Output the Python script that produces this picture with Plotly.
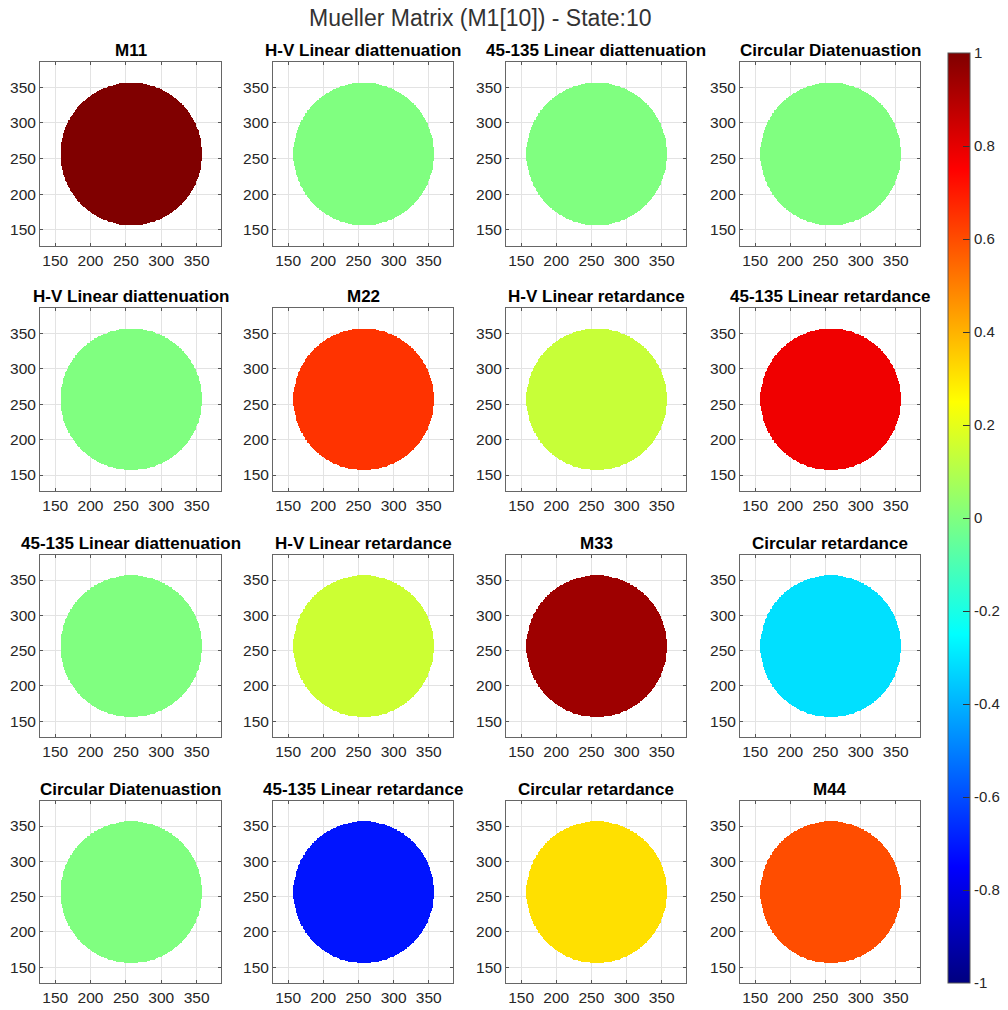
import numpy as np
import plotly.graph_objects as go

# Panel titles (row-major, 4x4 Mueller matrix layout)
titles = [
    "M11", "H-V Linear diattenuation", "45-135 Linear diattenuation", "Circular Diatenuastion",
    "H-V Linear diattenuation", "M22", "H-V Linear retardance", "45-135 Linear retardance",
    "45-135 Linear diattenuation", "H-V Linear retardance", "M33", "Circular retardance",
    "Circular Diatenuastion", "45-135 Linear retardance", "Circular retardance", "M44",
]

# Normalised element value inside the aperture for each panel
values = [
    1.00, 0.00, 0.00, 0.00,
    0.00, 0.65, 0.14, 0.78,
    0.00, 0.15, 0.94, -0.31,
    0.00, -0.71, 0.31, 0.60,
]

tick_vals = [150, 200, 250, 300, 350]
cbar_vals = [-1, -0.8, -0.6, -0.4, -0.2, 0, 0.2, 0.4, 0.6, 0.8, 1]
cbar_text = ["-1", "-0.8", "-0.6", "-0.4", "-0.2", "0", "0.2", "0.4", "0.6", "0.8", "1"]

# Aperture geometry in pixel coordinates
cx, cy, radius = 257.5, 256.5, 100.0

W, H = 1008, 1010
FONT = "Liberation Sans, Arial, Helvetica, sans-serif"

# MATLAB-style jet colormap
jet = [
    [0.0, "rgb(0,0,128)"],
    [0.125, "rgb(0,0,255)"],
    [0.375, "rgb(0,255,255)"],
    [0.625, "rgb(255,255,0)"],
    [0.875, "rgb(255,0,0)"],
    [1.0, "rgb(128,0,0)"],
]

# Axes boxes in pixels
col_px = [(40, 221), (273, 453), (506, 686), (740, 920)]
row_px = [(62, 246), (308, 491), (555, 737), (801, 983)]

xs = np.arange(157, 359)
ys = np.arange(156, 358)
X, Y = np.meshgrid(xs, ys)
inside = (X - cx) ** 2 + (Y - cy) ** 2 <= radius ** 2

fig = go.Figure()
layout = dict(
    width=W, height=H,
    margin=dict(l=0, r=0, t=0, b=0),
    paper_bgcolor="white", plot_bgcolor="white",
    showlegend=False,
    font=dict(family=FONT, color="#262626"),
    coloraxis=dict(
        cmin=-1, cmax=1, colorscale=jet,
        colorbar=dict(
            x=948 / W, xanchor="left", xpad=0, ypad=0,
            y=1 - 518 / H, yanchor="middle",
            thickness=22, thicknessmode="pixels",
            len=930, lenmode="pixels",
            outlinecolor="#555555", outlinewidth=1,
            tickmode="array", tickvals=cbar_vals, ticktext=cbar_text,
            ticks="inside", ticklen=7, tickcolor="#333333",
            tickfont=dict(family=FONT, size=15, color="#262626"),
        ),
    ),
)

annotations = []
for i, (name, val) in enumerate(zip(titles, values)):
    r, c = divmod(i, 4)
    k = i + 1
    xa = "x" if k == 1 else f"x{k}"
    ya = "y" if k == 1 else f"y{k}"
    z = np.where(inside, val, np.nan)
    zl = [[None if np.isnan(v) else float(v) for v in row] for row in z]
    fig.add_trace(go.Heatmap(
        x=xs, y=ys, z=zl, coloraxis="coloraxis",
        xaxis=xa, yaxis=ya, hoverongaps=False,
    ))
    x0, x1 = col_px[c]
    y0, y1 = row_px[r]
    axis_common = dict(
        tickmode="array", tickvals=tick_vals,
        ticks="inside", ticklen=3, tickcolor="#555555",
        showgrid=True, gridcolor="#e3e3e3", gridwidth=1,
        showline=True, mirror="ticks", linecolor="#666666", linewidth=1,
        zeroline=False, tickfont=dict(family=FONT, size=15.5, color="#262626"),
        fixedrange=True,
    )
    layout["xaxis" if k == 1 else f"xaxis{k}"] = dict(
        domain=[x0 / W, x1 / W], range=[128.5, 384.5], anchor=ya, **axis_common)
    layout["yaxis" if k == 1 else f"yaxis{k}"] = dict(
        domain=[1 - y1 / H, 1 - y0 / H], range=[127.5, 385.5], anchor=xa, **axis_common)
    annotations.append(dict(
        text=f"<b>{name}</b>", xref="paper", yref="paper",
        x=(x0 + x1) / 2 / W, y=1 - y0 / H,
        xanchor="center", yanchor="bottom", showarrow=False,
        font=dict(family=FONT, size=17, color="black"),
    ))

annotations.append(dict(
    text="Mueller Matrix (M1[10]) - State:10", xref="paper", yref="paper",
    x=480 / W, y=1 - 18 / H, xanchor="center", yanchor="middle", showarrow=False,
    font=dict(family=FONT, size=23, color="#333333"),
))
layout["annotations"] = annotations

fig.update_layout(**layout)
fig.write_html("out.html")
